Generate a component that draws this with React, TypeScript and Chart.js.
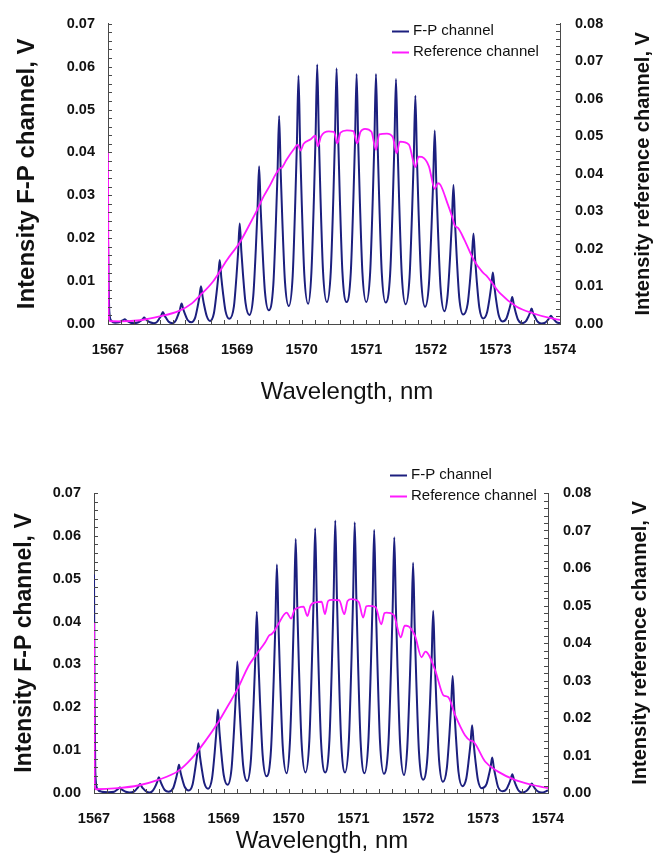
import { useEffect, useRef } from "react";
import { Chart, registerables } from "chart.js";

Chart.register(...registerables);

// ---------- axes ----------
const X_MIN = 1567;
const X_MAX = 1574;
const X_STEP = 1;
const X_MINOR = 0.2;
const YL_MAX = 0.07;
const YR_MAX = 0.08;
const Y_STEP = 0.01;
const Y_MINOR = 0.002;

const LEFT_TITLE = "Intensity F-P channel, V";
const RIGHT_TITLE = "Intensity reference channel, V";
const X_TITLE = "Wavelength, nm";
const SERIES_NAMES = ["F-P channel", "Reference channel"];

// ---------- data: upper panel (wavelength nm, intensity V) ----------
const fpTop: [number, number][] = [
  [1567.00, 0.0198], [1567.02, 0.0030], [1567.05, 0.0008], [1567.11, 0.0003],
  [1567.17, 0.0004], [1567.21, 0.0007], [1567.235, 0.0009], [1567.26, 0.0011], [1567.285, 0.0008], [1567.31, 0.0006], [1567.35, 0.0003], [1567.41, 0.0002],
  [1567.47, 0.0004], [1567.51, 0.0008], [1567.535, 0.0011], [1567.56, 0.0015], [1567.585, 0.0011], [1567.61, 0.0008], [1567.65, 0.0004], [1567.71, 0.0002],
  [1567.76, 0.0005], [1567.80, 0.0014], [1567.825, 0.0020], [1567.85, 0.0028], [1567.875, 0.0020], [1567.90, 0.0014], [1567.94, 0.0005], [1568.00, 0.0002],
  [1568.05, 0.0008], [1568.09, 0.0023], [1568.115, 0.0034], [1568.14, 0.0048], [1568.165, 0.0035], [1568.19, 0.0024], [1568.23, 0.0010], [1568.29, 0.0004],
  [1568.35, 0.0015], [1568.39, 0.0042], [1568.415, 0.0063], [1568.44, 0.0088], [1568.465, 0.0064], [1568.49, 0.0043], [1568.53, 0.0018], [1568.58, 0.0007],
  [1568.64, 0.0025], [1568.68, 0.0071], [1568.705, 0.0106], [1568.73, 0.0149], [1568.755, 0.0108], [1568.78, 0.0074], [1568.82, 0.0030], [1568.88, 0.0012],
  [1568.95, 0.0041], [1568.99, 0.0112], [1569.015, 0.0167], [1569.04, 0.0234], [1569.065, 0.0170], [1569.09, 0.0117], [1569.13, 0.0049], [1569.19, 0.0021],
  [1569.25, 0.0066], [1569.29, 0.0177], [1569.315, 0.0264], [1569.34, 0.0368], [1569.365, 0.0267], [1569.39, 0.0183], [1569.43, 0.0076], [1569.49, 0.0032],
  [1569.56, 0.0091], [1569.60, 0.0236], [1569.625, 0.0349], [1569.65, 0.0485], [1569.675, 0.0352], [1569.70, 0.0241], [1569.74, 0.0100], [1569.80, 0.0042],
  [1569.86, 0.0112], [1569.90, 0.0284], [1569.925, 0.0418], [1569.95, 0.0579], [1569.975, 0.0419], [1570.00, 0.0286], [1570.04, 0.0116], [1570.10, 0.0047],
  [1570.15, 0.0120], [1570.19, 0.0298], [1570.215, 0.0438], [1570.24, 0.0605], [1570.265, 0.0439], [1570.29, 0.0300], [1570.33, 0.0123], [1570.39, 0.0051],
  [1570.45, 0.0122], [1570.49, 0.0296], [1570.515, 0.0433], [1570.54, 0.0596], [1570.565, 0.0433], [1570.59, 0.0296], [1570.63, 0.0122], [1570.695, 0.0051],
  [1570.76, 0.0120], [1570.80, 0.0290], [1570.825, 0.0423], [1570.85, 0.0583], [1570.875, 0.0423], [1570.90, 0.0290], [1570.94, 0.0120], [1571.00, 0.0051],
  [1571.06, 0.0120], [1571.10, 0.0290], [1571.125, 0.0423], [1571.15, 0.0583], [1571.175, 0.0423], [1571.20, 0.0290], [1571.24, 0.0119], [1571.30, 0.0050],
  [1571.37, 0.0118], [1571.41, 0.0284], [1571.435, 0.0415], [1571.46, 0.0571], [1571.485, 0.0414], [1571.51, 0.0282], [1571.55, 0.0114], [1571.61, 0.0046],
  [1571.67, 0.0109], [1571.71, 0.0265], [1571.735, 0.0386], [1571.76, 0.0532], [1571.785, 0.0384], [1571.81, 0.0261], [1571.85, 0.0104], [1571.91, 0.0040],
  [1571.97, 0.0093], [1572.01, 0.0225], [1572.035, 0.0328], [1572.06, 0.0451], [1572.085, 0.0325], [1572.11, 0.0220], [1572.15, 0.0085], [1572.21, 0.0030],
  [1572.26, 0.0068], [1572.30, 0.0162], [1572.325, 0.0236], [1572.35, 0.0324], [1572.375, 0.0233], [1572.40, 0.0158], [1572.44, 0.0061], [1572.50, 0.0022],
  [1572.57, 0.0047], [1572.61, 0.0107], [1572.635, 0.0154], [1572.66, 0.0211], [1572.685, 0.0152], [1572.71, 0.0102], [1572.75, 0.0039], [1572.81, 0.0013],
  [1572.87, 0.0027], [1572.91, 0.0061], [1572.935, 0.0088], [1572.96, 0.0120], [1572.985, 0.0086], [1573.01, 0.0057], [1573.05, 0.0021], [1573.11, 0.0006],
  [1573.17, 0.0013], [1573.21, 0.0032], [1573.235, 0.0046], [1573.26, 0.0063], [1573.285, 0.0045], [1573.31, 0.0029], [1573.35, 0.0010], [1573.41, 0.0002],
  [1573.47, 0.0006], [1573.51, 0.0017], [1573.535, 0.0026], [1573.56, 0.0036], [1573.585, 0.0025], [1573.61, 0.0017], [1573.65, 0.0006], [1573.71, 0.0001],
  [1573.77, 0.0003], [1573.81, 0.0009], [1573.835, 0.0014], [1573.86, 0.0019], [1573.885, 0.0014], [1573.91, 0.0010], [1573.95, 0.0004], [1574.00, 0.0002],
];

const refTop: [number, number][] = [
  [1567.00, 0.0459], [1567.01, 0.0030], [1567.03, 0.0008], [1567.20, 0.0007], [1567.50, 0.0010],
  [1567.80, 0.0020], [1568.10, 0.0035], [1568.30, 0.0055], [1568.42, 0.0075], [1568.63, 0.0114],
  [1568.84, 0.0170], [1569.05, 0.0220], [1569.18, 0.0261], [1569.31, 0.0304], [1569.41, 0.0340],
  [1569.51, 0.0370], [1569.60, 0.0400], [1569.66, 0.0414], [1569.70, 0.0418], [1569.76, 0.0436],
  [1569.88, 0.0466], [1569.94, 0.0478], [1569.98, 0.0462], [1570.03, 0.0480], [1570.14, 0.0492],
  [1570.21, 0.0502], [1570.25, 0.0474], [1570.30, 0.0500], [1570.42, 0.0513], [1570.50, 0.0512],
  [1570.55, 0.0481], [1570.60, 0.0510], [1570.70, 0.0516], [1570.80, 0.0514], [1570.86, 0.0481],
  [1570.91, 0.0512], [1570.98, 0.0520], [1571.08, 0.0512], [1571.15, 0.0464], [1571.20, 0.0505],
  [1571.32, 0.0507], [1571.41, 0.0498], [1571.47, 0.0455], [1571.52, 0.0486], [1571.66, 0.0478],
  [1571.76, 0.0418], [1571.81, 0.0446], [1571.86, 0.0445], [1571.97, 0.0420], [1572.06, 0.0360],
  [1572.11, 0.0375], [1572.15, 0.0370], [1572.26, 0.0320], [1572.34, 0.0280], [1572.37, 0.0262],
  [1572.42, 0.0256], [1572.52, 0.0224], [1572.66, 0.0172], [1572.80, 0.0138], [1572.87, 0.0127],
  [1573.07, 0.0082], [1573.33, 0.0046], [1573.59, 0.0028], [1573.84, 0.0016], [1574.00, 0.0011],
];

// ---------- data: lower panel ----------
const fpBottom: [number, number][] = [
  [1567.00, 0.0510], [1567.01, 0.0200], [1567.02, 0.0050], [1567.05, 0.0010], [1567.12, 0.0003], [1567.22, 0.0002],
  [1567.31, 0.0003], [1567.35, 0.0007], [1567.375, 0.0010], [1567.40, 0.0013], [1567.425, 0.0009], [1567.45, 0.0006], [1567.49, 0.0003], [1567.55, 0.0001],
  [1567.62, 0.0004], [1567.66, 0.0010], [1567.685, 0.0015], [1567.71, 0.0021], [1567.735, 0.0015], [1567.76, 0.0010], [1567.80, 0.0004], [1567.86, 0.0001],
  [1567.91, 0.0006], [1567.95, 0.0017], [1567.975, 0.0026], [1568.00, 0.0037], [1568.025, 0.0027], [1568.05, 0.0018], [1568.09, 0.0007], [1568.15, 0.0003],
  [1568.22, 0.0011], [1568.26, 0.0031], [1568.285, 0.0047], [1568.31, 0.0066], [1568.335, 0.0048], [1568.36, 0.0033], [1568.40, 0.0014], [1568.46, 0.0006],
  [1568.52, 0.0020], [1568.56, 0.0056], [1568.585, 0.0083], [1568.61, 0.0116], [1568.635, 0.0084], [1568.66, 0.0058], [1568.70, 0.0024], [1568.76, 0.0010],
  [1568.82, 0.0034], [1568.86, 0.0093], [1568.885, 0.0140], [1568.91, 0.0195], [1568.935, 0.0142], [1568.96, 0.0098], [1569.00, 0.0042], [1569.06, 0.0019],
  [1569.12, 0.0056], [1569.16, 0.0149], [1569.185, 0.0221], [1569.21, 0.0307], [1569.235, 0.0223], [1569.26, 0.0154], [1569.30, 0.0064], [1569.36, 0.0028],
  [1569.42, 0.0079], [1569.46, 0.0206], [1569.485, 0.0305], [1569.51, 0.0423], [1569.535, 0.0308], [1569.56, 0.0212], [1569.60, 0.0089], [1569.66, 0.0039],
  [1569.73, 0.0103], [1569.77, 0.0261], [1569.795, 0.0385], [1569.82, 0.0533], [1569.845, 0.0387], [1569.87, 0.0265], [1569.91, 0.0109], [1569.97, 0.0046],
  [1570.02, 0.0117], [1570.06, 0.0292], [1570.085, 0.0429], [1570.11, 0.0593], [1570.135, 0.0430], [1570.16, 0.0293], [1570.20, 0.0119], [1570.26, 0.0048],
  [1570.32, 0.0122], [1570.36, 0.0305], [1570.385, 0.0447], [1570.41, 0.0618], [1570.435, 0.0447], [1570.46, 0.0305], [1570.50, 0.0122], [1570.565, 0.0048],
  [1570.63, 0.0124], [1570.67, 0.0313], [1570.695, 0.0460], [1570.72, 0.0636], [1570.745, 0.0460], [1570.77, 0.0313], [1570.81, 0.0124], [1570.87, 0.0048],
  [1570.93, 0.0124], [1570.97, 0.0311], [1570.995, 0.0457], [1571.02, 0.0632], [1571.045, 0.0456], [1571.07, 0.0310], [1571.11, 0.0122], [1571.17, 0.0046],
  [1571.23, 0.0120], [1571.27, 0.0302], [1571.295, 0.0444], [1571.32, 0.0614], [1571.345, 0.0443], [1571.37, 0.0301], [1571.41, 0.0119], [1571.47, 0.0045],
  [1571.54, 0.0117], [1571.58, 0.0293], [1571.605, 0.0431], [1571.63, 0.0597], [1571.655, 0.0431], [1571.68, 0.0292], [1571.72, 0.0114], [1571.78, 0.0042],
  [1571.83, 0.0106], [1571.87, 0.0265], [1571.895, 0.0389], [1571.92, 0.0537], [1571.945, 0.0385], [1571.97, 0.0259], [1572.01, 0.0097], [1572.075, 0.0031],
  [1572.14, 0.0082], [1572.18, 0.0208], [1572.205, 0.0307], [1572.23, 0.0425], [1572.255, 0.0305], [1572.28, 0.0206], [1572.32, 0.0078], [1572.38, 0.0026],
  [1572.44, 0.0058], [1572.48, 0.0137], [1572.505, 0.0199], [1572.53, 0.0273], [1572.555, 0.0196], [1572.58, 0.0132], [1572.62, 0.0049], [1572.68, 0.0016],
  [1572.74, 0.0034], [1572.78, 0.0080], [1572.805, 0.0115], [1572.83, 0.0158], [1572.855, 0.0114], [1572.88, 0.0077], [1572.92, 0.0030], [1572.98, 0.0011],
  [1573.05, 0.0020], [1573.09, 0.0043], [1573.115, 0.0061], [1573.14, 0.0083], [1573.165, 0.0059], [1573.19, 0.0040], [1573.23, 0.0014], [1573.30, 0.0004],
  [1573.36, 0.0009], [1573.40, 0.0022], [1573.425, 0.0032], [1573.45, 0.0044], [1573.475, 0.0031], [1573.50, 0.0020], [1573.54, 0.0007], [1573.60, 0.0001],
  [1573.66, 0.0004], [1573.70, 0.0010], [1573.725, 0.0016], [1573.75, 0.0022], [1573.775, 0.0016], [1573.80, 0.0010], [1573.84, 0.0004], [1573.90, 0.0001],
  [1574.00, 0.0006],
];

const refBottom: [number, number][] = [
  [1567.00, 0.0455], [1567.01, 0.0030], [1567.03, 0.0010], [1567.37, 0.0013], [1567.68, 0.0020],
  [1567.99, 0.0035], [1568.30, 0.0059], [1568.51, 0.0093], [1568.71, 0.0137], [1568.92, 0.0190],
  [1569.07, 0.0234], [1569.23, 0.0283], [1569.38, 0.0338], [1569.51, 0.0371], [1569.64, 0.0402],
  [1569.70, 0.0420], [1569.74, 0.0424], [1569.78, 0.0432], [1569.84, 0.0450], [1569.97, 0.0481],
  [1570.04, 0.0465], [1570.09, 0.0488], [1570.15, 0.0494], [1570.23, 0.0497], [1570.29, 0.0472],
  [1570.34, 0.0500], [1570.41, 0.0508], [1570.51, 0.0510], [1570.56, 0.0477], [1570.61, 0.0512],
  [1570.66, 0.0515], [1570.78, 0.0514], [1570.86, 0.0477], [1570.91, 0.0512], [1570.97, 0.0517],
  [1571.08, 0.0510], [1571.15, 0.0468], [1571.20, 0.0498], [1571.23, 0.0499], [1571.34, 0.0496],
  [1571.43, 0.0450], [1571.48, 0.0480], [1571.51, 0.0481], [1571.62, 0.0475], [1571.73, 0.0415],
  [1571.79, 0.0446], [1571.82, 0.0446], [1571.95, 0.0419], [1572.05, 0.0362], [1572.11, 0.0377],
  [1572.26, 0.0327], [1572.36, 0.0270], [1572.39, 0.0260], [1572.46, 0.0256], [1572.57, 0.0207],
  [1572.72, 0.0154], [1572.80, 0.0140], [1572.85, 0.0137], [1573.03, 0.0084], [1573.23, 0.0057],
  [1573.49, 0.0035], [1573.75, 0.0022], [1574.00, 0.0013],
];

// ---------- styling ----------
const FP_COLOR = "#1c1f7e";
const REF_COLOR = "#ff1aff";
const AXIS_COLOR = "#4a4a4a";
const FONT = '"Liberation Sans", Arial, Helvetica, sans-serif';

type Panel = {
  top: number;
  height: number;
  leftW: number;
  rightW: number;
  xH: number;
  padTop: number;
  fp: [number, number][];
  ref: [number, number][];
  leftTitleX: number;
  leftTitleSize: number;
  rightTitleX: number;
  xTitleX: number;
  xTitleY: number;
  legendX: number;
  legendY: number;
};

const PANELS: Panel[] = [
  {
    top: 0, height: 428, leftW: 108, rightW: 105, xH: 104, padTop: 15,
    fp: fpTop, ref: refTop,
    leftTitleX: 27, leftTitleSize: 24, rightTitleX: 643, xTitleX: 347, xTitleY: 392,
    legendX: 392, legendY: 31,
  },
  {
    top: 428, height: 428, leftW: 94, rightW: 117, xH: 63, padTop: 65,
    fp: fpBottom, ref: refBottom,
    leftTitleX: 25, leftTitleSize: 23, rightTitleX: 640, xTitleX: 322, xTitleY: 413,
    legendX: 390, legendY: 47,
  },
];

function makeDecor(p: Panel) {
  return {
    id: "decor",
    afterDraw(chart: any) {
      const ctx: CanvasRenderingContext2D = chart.ctx;
      const ca = chart.chartArea;
      const xs = chart.scales.x;
      const yl = chart.scales.y;
      const yr = chart.scales.y2;
      ctx.save();
      // inward ticks
      ctx.strokeStyle = AXIS_COLOR;
      ctx.lineWidth = 1;
      ctx.beginPath();
      const nL = Math.round(YL_MAX / Y_MINOR);
      for (let i = 0; i <= nL; i++) {
        const y = Math.round(yl.getPixelForValue(i * Y_MINOR)) + 0.5;
        ctx.moveTo(ca.left, y);
        ctx.lineTo(ca.left + 4, y);
      }
      const nR = Math.round(YR_MAX / Y_MINOR);
      for (let i = 0; i <= nR; i++) {
        const y = Math.round(yr.getPixelForValue(i * Y_MINOR)) + 0.5;
        ctx.moveTo(ca.right, y);
        ctx.lineTo(ca.right - 4, y);
      }
      const nX = Math.round((X_MAX - X_MIN) / X_MINOR);
      for (let i = 0; i <= nX; i++) {
        const x = Math.round(xs.getPixelForValue(X_MIN + i * X_MINOR)) + 0.5;
        ctx.moveTo(x, ca.bottom);
        ctx.lineTo(x, ca.bottom - 4);
      }
      ctx.stroke();

      // titles
      ctx.fillStyle = "#111";
      ctx.textAlign = "center";
      ctx.textBaseline = "middle";
      const midY = (ca.top + ca.bottom) / 2;
      ctx.font = `bold ${p.leftTitleSize}px ${FONT}`;
      ctx.save();
      ctx.translate(p.leftTitleX, midY);
      ctx.rotate(-Math.PI / 2);
      ctx.fillText(LEFT_TITLE, 0, 0);
      ctx.restore();
      ctx.font = `bold 20px ${FONT}`;
      ctx.save();
      ctx.translate(p.rightTitleX, midY);
      ctx.rotate(-Math.PI / 2);
      ctx.fillText(RIGHT_TITLE, 0, 0);
      ctx.restore();
      ctx.font = `24px ${FONT}`;
      ctx.fillText(X_TITLE, p.xTitleX, p.xTitleY);

      // legend
      ctx.font = `15px ${FONT}`;
      ctx.textAlign = "left";
      const colors = [FP_COLOR, REF_COLOR];
      SERIES_NAMES.forEach((name, i) => {
        const y = p.legendY + i * 21;
        ctx.strokeStyle = colors[i];
        ctx.lineWidth = 2;
        ctx.beginPath();
        ctx.moveTo(p.legendX, y + 0.5);
        ctx.lineTo(p.legendX + 17, y + 0.5);
        ctx.stroke();
        ctx.fillStyle = "#111";
        ctx.fillText(name, p.legendX + 21, y);
      });
      ctx.restore();
    },
  };
}

function PanelChart({ p }: { p: Panel }) {
  const ref = useRef<HTMLCanvasElement | null>(null);
  useEffect(() => {
    if (!ref.current) return;
    const tickFont = { family: FONT, size: 14.5, weight: "bold" as const };
    const chart = new Chart(ref.current, {
      type: "line",
      data: {
        datasets: [
          {
            label: SERIES_NAMES[1],
            data: p.ref.map(([x, y]) => ({ x, y })),
            yAxisID: "y2",
            borderColor: REF_COLOR,
            borderWidth: 1.8,
            pointRadius: 0,
            cubicInterpolationMode: "monotone",
            order: 0,
          },
          {
            label: SERIES_NAMES[0],
            data: p.fp.map(([x, y]) => ({ x, y })),
            yAxisID: "y",
            borderColor: FP_COLOR,
            borderWidth: 2,
            pointRadius: 0,
            cubicInterpolationMode: "monotone",
            order: 1,
          },
        ],
      },
      options: {
        responsive: false,
        animation: false,
        events: [],
        layout: { padding: { top: p.padTop, left: 0, right: 0, bottom: 0 } },
        plugins: { legend: { display: false }, tooltip: { enabled: false } },
        scales: {
          x: {
            type: "linear",
            min: X_MIN,
            max: X_MAX,
            grid: { display: false, drawTicks: false },
            border: { display: true, color: AXIS_COLOR, width: 1 },
            ticks: {
              stepSize: X_STEP,
              color: "#111",
              font: tickFont,
              padding: 17,
              maxRotation: 0,
              callback: (v: any) => String(v),
            },
            afterFit: (s: any) => { s.height = p.xH; },
          },
          y: {
            type: "linear",
            position: "left",
            min: 0,
            max: YL_MAX,
            grid: { display: false, drawTicks: false },
            border: { display: true, color: AXIS_COLOR, width: 1 },
            ticks: {
              stepSize: Y_STEP,
              color: "#111",
              font: tickFont,
              padding: 13,
              callback: (v: any) => Number(v).toFixed(2),
            },
            afterFit: (s: any) => { s.width = p.leftW; },
          },
          y2: {
            type: "linear",
            position: "right",
            min: 0,
            max: YR_MAX,
            grid: { display: false, drawTicks: false },
            border: { display: true, color: AXIS_COLOR, width: 1 },
            ticks: {
              stepSize: Y_STEP,
              color: "#111",
              font: tickFont,
              padding: 15,
              callback: (v: any) => Number(v).toFixed(2),
            },
            afterFit: (s: any) => { s.width = p.rightW; },
          },
        },
      },
      plugins: [makeDecor(p)],
    });
    return () => chart.destroy();
  }, [p]);
  return (
    <canvas
      ref={ref}
      width={665}
      height={p.height}
      style={{ position: "absolute", left: 0, top: p.top, width: 665, height: p.height }}
    />
  );
}

export default function App() {
  return (
    <div style={{ position: "absolute", left: 0, top: 0, width: 665, height: 856, background: "#fff", overflow: "hidden" }}>
      {PANELS.map((p, i) => (
        <PanelChart key={i} p={p} />
      ))}
    </div>
  );
}
